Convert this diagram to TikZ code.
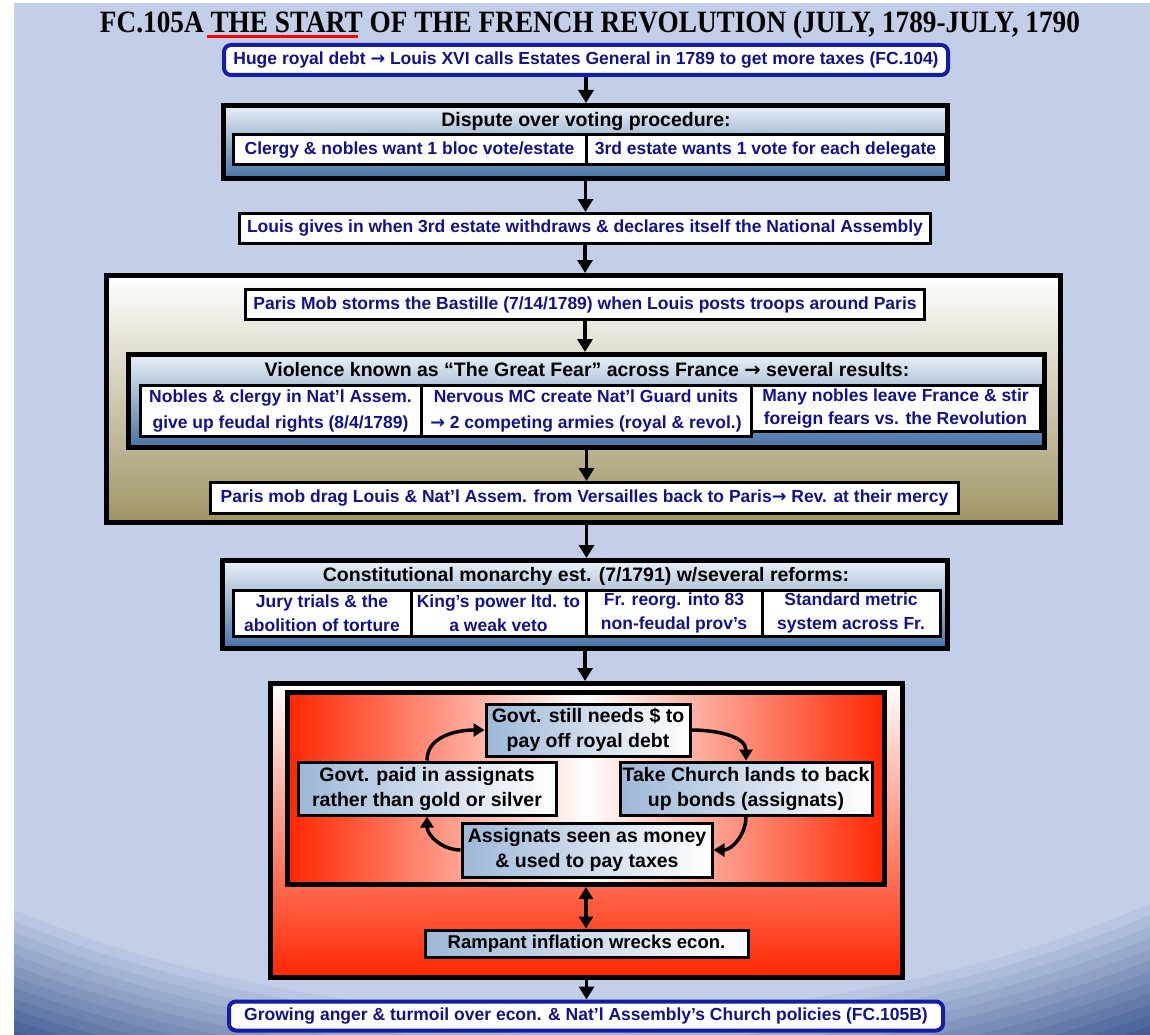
\documentclass[tikz,border=0pt]{standalone}
\usepackage{fontspec}
\setmainfont{Liberation Sans}
\newfontfamily\titlefont{Liberation Serif}
\newfontfamily\arrowfont{DejaVu Sans}
\newcommand{\rarr}{{\arrowfont\bfseries →}}
\usetikzlibrary{arrows.meta}

\definecolor{bgblue}{RGB}{195,207,232}
\definecolor{bgdark}{RGB}{68,94,148}
\definecolor{navy}{RGB}{18,18,140}
\definecolor{rimblue}{RGB}{20,30,165}
\definecolor{steel}{RGB}{70,114,164}
\definecolor{steeltop}{RGB}{234,240,247}
\definecolor{khaki}{RGB}{160,148,100}
\definecolor{hotred}{RGB}{255,38,0}
\definecolor{cycblue}{RGB}{158,184,216}

\begin{document}
\begin{tikzpicture}[x=1pt,y=-1pt,
  navytext/.style={text=navy, font=\bfseries\fontsize{17.5}{23.5}\selectfont},
  widelines/.style={font=\bfseries\fontsize{17.5}{25.5}\selectfont},
  headtext/.style={text=black, font=\bfseries\fontsize{19.5}{23}\selectfont, inner sep=0pt},
  rimbox/.style={draw=rimblue, line width=4pt, rounded corners=7pt, fill=white, inner sep=0pt, navytext},
  whitebox/.style={draw=black, line width=3pt, fill=white, inner sep=0pt, navytext, align=center},
  blueframe/.style={draw=black, line width=5pt, top color=steeltop, bottom color=steel, inner sep=0pt},
  beigeframe/.style={draw=black, line width=5pt, top color=white, bottom color=khaki, inner sep=0pt},
  cycbox/.style={draw=black, line width=3pt, left color=cycblue, right color=white, inner sep=0pt,
    align=center, text=black, font=\bfseries\fontsize{19.5}{25}\selectfont},
  flow/.style={line width=3.5pt, -{Triangle[width=15pt,length=13pt]}},
  twoway/.style={line width=3.5pt, {Triangle[width=14pt,length=12pt]}-{Triangle[width=14pt,length=12pt]}},
  cycarrow/.style={line width=3.5pt, -{Triangle[width=13pt,length=11pt]}}
]
% page and background with darker bands towards the lower corners
\fill[white] (0,0) rectangle (1150,1035);
\begin{scope}
  \clip (14,4) rectangle (1150,1035);
  \fill[bgdark] (14,4) rectangle (1150,1035);
  \foreach \k in {12,11,...,0}{
    \pgfmathsetmacro{\s}{1+0.016*\k}
    \pgfmathsetmacro{\m}{100*\k/12}
    \fill[bgdark!\m!bgblue] (575,432) ellipse [x radius=978pt*\s, y radius=583pt*\s];
  }
\end{scope}

% title
\node[anchor=base, inner sep=0pt, font=\titlefont\bfseries\fontsize{31}{31}\selectfont] (title) at (590,33)
  {\resizebox{980pt}{\height}{FC.105A THE START OF THE FRENCH REVOLUTION (JULY, 1789-JULY, 1790}};
\coordinate (ulstart) at (207,36.5);
\coordinate (ulend) at (358,36.5);
\draw[red, line width=2.6pt] (ulstart) -- (ulend);

% opening cause
\node[rimbox, minimum width=724pt, minimum height=30pt] (debt) at (586,60)
  {Huge royal debt \rarr{} Louis XVI calls Estates General in 1789 to get more taxes (FC.104)};

% voting dispute
\node[blueframe, minimum width=724pt, minimum height=73pt] (dispute) at (585.5,142) {};
\node[headtext] (disputetitle) at (586,122) {Dispute over voting procedure:};
\node[whitebox, minimum width=353pt, minimum height=30pt] (bloc) at (409.5,150) {Clergy \& nobles want 1 bloc vote/estate};
\node[whitebox, minimum width=359pt, minimum height=30pt] (delegate) at (765.5,150) {3rd estate wants 1 vote for each delegate};

\node[whitebox, minimum width=691pt, minimum height=30pt] (assembly) at (585,228.5)
  {Louis gives in when 3rd estate withdraws \& declares itself the National Assembly};

% Paris uprisings
\node[beigeframe, minimum width=954pt, minimum height=247pt] (paris) at (583.5,399) {};
\node[whitebox, minimum width=679pt, minimum height=30pt] (bastille) at (585,304.5)
  {Paris Mob storms the Bastille (7/14/1789) when Louis posts troops around Paris};
\node[blueframe, minimum width=916pt, minimum height=93pt] (fear) at (586.5,401) {};
\node[headtext] (feartitle) at (587,370) {Violence known as “The Great Fear” across France \rarr{} several results:};
\node[whitebox, widelines, minimum width=281pt, minimum height=51pt] (feudal) at (280.5,411)
  {Nobles \& clergy in Nat’l Assem.\\give up feudal rights (8/4/1789)};
\node[whitebox, widelines, minimum width=330pt, minimum height=51pt] (guard) at (586,411)
  {Nervous MC create Nat’l Guard units\\\rarr{} 2 competing armies (royal \& revol.)};
\node[whitebox, minimum width=289pt, minimum height=46pt] (emigres) at (895.5,408.5)
  {Many nobles leave France \& stir\\foreign fears vs. the Revolution};
\node[whitebox, minimum width=748pt, minimum height=31pt] (versailles) at (584.5,498)
  {Paris mob drag Louis \& Nat’l Assem. from Versailles back to Paris\rarr{} Rev. at their mercy};

% constitutional monarchy
\node[blueframe, minimum width=725pt, minimum height=88pt] (monarchy) at (585,604.5) {};
\node[headtext] (monarchytitle) at (586,576) {Constitutional monarchy est. (7/1791) w/several reforms:};
\node[whitebox, minimum width=178pt, minimum height=46pt] (jury) at (322,613) {Jury trials \& the\\abolition of torture};
\node[whitebox, minimum width=175pt, minimum height=46pt] (veto) at (498.5,613) {King’s power ltd. to\\a weak veto};
\node[whitebox, minimum width=176pt, minimum height=46pt] (provinces) at (674,613) {Fr. reorg. into 83\\non-feudal prov’s};
\node[whitebox, minimum width=178pt, minimum height=46pt] (metric) at (851,613) {Standard metric\\system across Fr.};

% assignat cycle
\node[draw=black, line width=5pt, top color=white, bottom color=hotred, minimum width=632pt, minimum height=294pt, inner sep=0pt]
  (finance) at (586.5,830.5) {};
\node[draw=black, line width=5pt, left color=hotred, right color=hotred, middle color=white, minimum width=597pt, minimum height=192pt, inner sep=0pt]
  (cycle) at (586,788.5) {};
\node[cycbox, minimum width=204pt, minimum height=52pt] (needs) at (588,730) {Govt. still needs \$ to\\pay off royal debt};
\node[cycbox, minimum width=252pt, minimum height=53pt] (lands) at (746,788.5) {Take Church lands to back\\up bonds (assignats)};
\node[cycbox, minimum width=250pt, minimum height=54pt] (money) at (587,850) {Assignats seen as money\\\& used to pay taxes};
\node[cycbox, minimum width=258pt, minimum height=53pt] (paid) at (427,788.5) {Govt. paid in assignats\\rather than gold or silver};
\node[cycbox, minimum width=323pt, minimum height=27pt, font=\bfseries\fontsize{18.5}{22}\selectfont] (inflation) at (586.5,943.5)
  {Rampant inflation wrecks econ.};

\draw[cycarrow] (needs.east) to[out=0,in=90] (lands.north);
\draw[cycarrow] (lands.south) to[out=-90,in=0] (money.east);
\draw[cycarrow] (money.west) to[out=180,in=-90] (paid.south);
\draw[cycarrow] (paid.north) to[out=90,in=180] (needs.west);
\draw[twoway] (cycle.south) -- (cycle.south |- inflation.north);

% outcome
\node[rimbox, minimum width=714pt, minimum height=29pt] (turmoil) at (586,1016)
  {Growing anger \& turmoil over econ. \& Nat’l Assembly’s Church policies (FC.105B)};

% main flow
\draw[flow] (debt.south) -- (debt.south |- dispute.north);
\draw[flow] (dispute.south) -- (dispute.south |- assembly.north);
\draw[flow] (assembly.south) -- (assembly.south |- paris.north);
\draw[flow] (bastille.south) -- (bastille.south |- fear.north);
\draw[flow] (fear.south) -- (fear.south |- versailles.north);
\draw[flow] (paris.south) ++(3,0) coordinate (parisout) -- (parisout |- monarchy.north);
\draw[flow] (monarchy.south) -- (monarchy.south |- finance.north);
\draw[flow] (finance.south) -- (finance.south |- turmoil.north);
\end{tikzpicture}
\end{document}
